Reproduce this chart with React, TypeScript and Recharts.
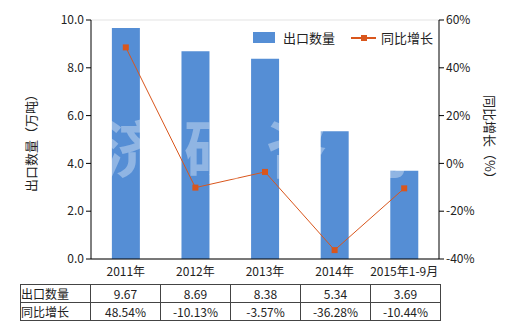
import { ComposedChart, Bar, Line, XAxis, YAxis, CartesianGrid } from 'recharts';

const years = ['2011年', '2012年', '2013年', '2014年', '2015年1-9月'];
const exportQty = [9.67, 8.69, 8.38, 5.34, 3.69];
const yoyGrowth = [48.54, -10.13, -3.57, -36.28, -10.44];
const leftTicks = [0, 2, 4, 6, 8, 10];
const rightTicks = [-40, -20, 0, 20, 40, 60];

const BAR_COLOR = '#558ed5';
const LINE_COLOR = '#d9561c';
const FONT = '"Noto Sans CJK SC", "Noto Sans", sans-serif';

const data = years.map((y, i) => ({ year: y, qty: exportQty[i], yoy: yoyGrowth[i] }));

const SquareDot = (props: any) => {
  const { cx, cy } = props;
  if (cx == null || cy == null) return null;
  return <rect x={cx - 3} y={cy - 3} width={6} height={6} fill={LINE_COLOR} />;
};

const cell: React.CSSProperties = {
  border: '1px solid #444',
  width: 69,
  height: 17,
  padding: 0,
  textAlign: 'center',
  fontSize: 12,
  color: '#222',
};

const axisTitle = (x: number, angle: number): React.CSSProperties => ({
  position: 'absolute',
  left: x - 60,
  top: 131,
  width: 120,
  textAlign: 'center',
  fontSize: 13,
  color: '#222',
  lineHeight: '18px',
  transform: `rotate(${angle}deg)`,
  whiteSpace: 'nowrap',
});

export default function App() {
  return (
    <div style={{ position: 'absolute', left: 0, top: 0, width: 520, height: 330, background: '#fff', fontFamily: FONT }}>
      <ComposedChart
        width={520}
        height={290}
        data={data}
        margin={{ top: 20, right: 31, bottom: 1, left: 40 }}
        barCategoryGap="30%"
      >
        <CartesianGrid vertical={false} stroke="#e3e3e3" />
        <XAxis
          dataKey="year"
          axisLine={{ stroke: '#000' }}
          tickLine={false}
          height={30}
          tick={{ fontSize: 12, fill: '#222', fontFamily: FONT }}
          interval={0}
        />
        <YAxis
          yAxisId="left"
          domain={[0, 10]}
          ticks={leftTicks}
          width={51}
          axisLine={{ stroke: '#000' }}
          tickLine={{ stroke: '#000' }}
          tickSize={5}
          tick={{ fontSize: 12, fill: '#222', fontFamily: FONT }}
          tickFormatter={(v) => Number(v).toFixed(1)}
        />
        <YAxis
          yAxisId="right"
          orientation="right"
          domain={[-40, 60]}
          ticks={rightTicks}
          width={50}
          axisLine={{ stroke: '#000' }}
          tickLine={{ stroke: '#000' }}
          tickSize={5}
          tick={{ fontSize: 12, fill: '#222', fontFamily: FONT }}
          tickFormatter={(v) => `${v}%`}
        />
        <Bar yAxisId="left" dataKey="qty" fill={BAR_COLOR} isAnimationActive={false} />
        <Line
          yAxisId="right"
          dataKey="yoy"
          type="linear"
          stroke={LINE_COLOR}
          strokeWidth={1}
          dot={<SquareDot />}
          activeDot={false}
          isAnimationActive={false}
        />
      </ComposedChart>

      {/* axis titles */}
      <div style={axisTitle(31, -90)}>出口数量（万吨）</div>
      <div style={axisTitle(490, 90)}>同比增长（%）</div>

      {/* watermark */}
      <div
        style={{
          position: 'absolute',
          left: 102,
          top: 115,
          fontSize: 62,
          fontWeight: 'bold',
          letterSpacing: 20,
          color: 'rgba(255,255,255,0.35)',
          pointerEvents: 'none',
          whiteSpace: 'nowrap',
          lineHeight: 1,
        }}
      >
        济研咨询
      </div>

      {/* legend */}
      <div style={{ position: 'absolute', left: 253, top: 28, display: 'flex', alignItems: 'center', fontSize: 13, color: '#222' }}>
        <span style={{ display: 'inline-block', width: 22, height: 11, background: BAR_COLOR, marginRight: 8 }} />
        <span>出口数量</span>
        <span style={{ position: 'relative', display: 'inline-block', width: 25, height: 11, marginLeft: 16, marginRight: 5 }}>
          <span style={{ position: 'absolute', left: 0, top: 5, width: 25, height: 2, background: LINE_COLOR }} />
          <span style={{ position: 'absolute', left: 10, top: 3, width: 6, height: 6, background: LINE_COLOR }} />
        </span>
        <span>同比增长</span>
      </div>

      {/* data table */}
      <table
        style={{
          position: 'absolute',
          left: 20,
          top: 284,
          borderCollapse: 'collapse',
          fontFamily: FONT,
        }}
      >
        <tbody>
          <tr>
            <td style={{ ...cell, textAlign: 'left' }}>出口数量</td>
            {exportQty.map((v, i) => (
              <td key={i} style={cell}>{v.toFixed(2)}</td>
            ))}
          </tr>
          <tr>
            <td style={{ ...cell, textAlign: 'left' }}>同比增长</td>
            {yoyGrowth.map((v, i) => (
              <td key={i} style={cell}>{v.toFixed(2)}%</td>
            ))}
          </tr>
        </tbody>
      </table>
    </div>
  );
}
